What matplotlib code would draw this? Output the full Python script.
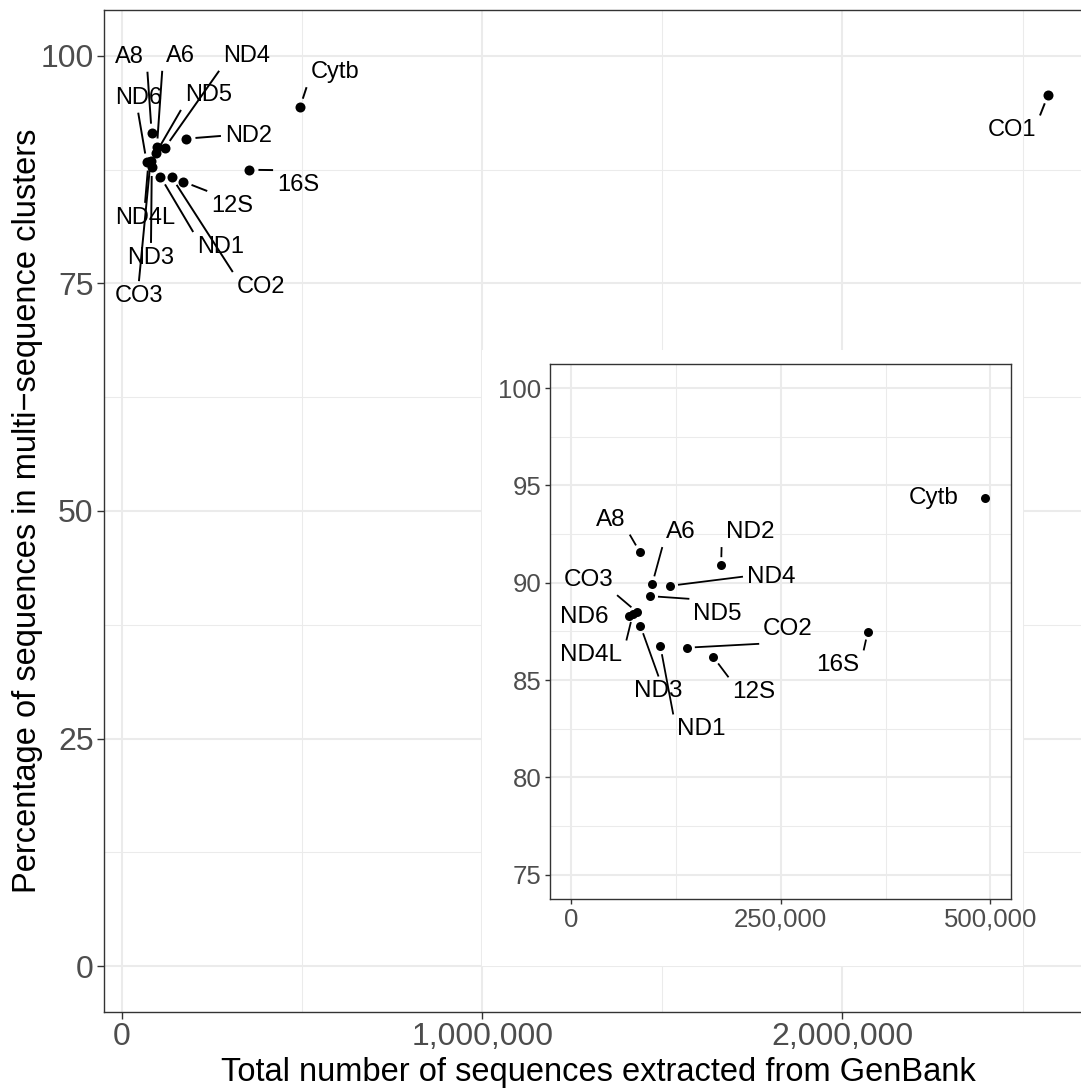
import matplotlib
matplotlib.use('Agg')
import numpy as np
import matplotlib.pyplot as plt
import matplotlib.ticker as ticker
from matplotlib.patches import Rectangle

plt.rcParams['font.family'] = ['Liberation Sans', 'DejaVu Sans']

# mitochondrial markers: total sequences pulled from GenBank and % in multi-sequence clusters
genes = ['CO1', 'Cytb', '16S', '12S', 'CO2', 'ND2', 'ND4', 'ND1', 'A6', 'ND5',
         'ND3', 'A8', 'CO3', 'ND4L', 'ND6']
n_seqs = [2571000, 494100, 353800, 169700, 138100, 179000, 118100, 106600, 96800, 94200,
          82700, 82300, 79300, 73700, 68600]
pct_clustered = [95.7, 94.35, 87.48, 86.18, 86.66, 90.90, 89.84, 86.73, 89.93, 89.31,
                 87.79, 91.56, 88.47, 88.38, 88.29]

# repelled label positions (data units) for the full-range panel
main_label_pos = {
    'CO1': (2.470e6, 91.8), 'Cytb': (0.591e6, 98.2), '16S': (0.489e6, 85.8),
    '12S': (0.306e6, 83.5), 'CO2': (0.386e6, 74.6), 'ND2': (0.351e6, 91.2),
    'ND4': (0.346e6, 100.0), 'ND1': (0.274e6, 79.0), 'A6': (0.163e6, 100.0),
    'ND5': (0.240e6, 95.7), 'ND3': (0.0805e6, 77.8), 'A8': (0.0194e6, 99.9),
    'CO3': (0.047e6, 73.6), 'ND4L': (0.064e6, 82.2), 'ND6': (0.045e6, 95.4),
}
# and for the zoomed inset
inset_label_pos = {
    'Cytb': (432700, 94.33), '16S': (318400, 85.75), '12S': (218300, 84.37),
    'CO2': (258800, 87.63), 'ND2': (213200, 92.60), 'ND4': (238700, 90.31),
    'ND1': (155600, 82.46), 'A6': (131300, 92.60), 'ND5': (174800, 88.40),
    'ND3': (104400, 84.41), 'A8': (47700, 93.24), 'CO3': (20500, 90.13),
    'ND4L': (24300, 86.26), 'ND6': (15800, 88.25),
}

GRID = '#EBEBEB'
DARK = '#333333'
TICKTXT = '#4D4D4D'

W, H = 1081, 1092


def style_axes(ax, tick_size, tick_len):
    ax.set_facecolor('white')
    ax.set_axisbelow(True)
    ax.grid(True, which='major', color=GRID, lw=1.5)
    ax.grid(True, which='minor', color=GRID, lw=0.75)
    for sp in ax.spines.values():
        sp.set_color(DARK)
        sp.set_linewidth(1.0)
    ax.tick_params(which='major', length=tick_len, width=1.0, color=DARK,
                   labelsize=tick_size, labelcolor=TICKTXT, pad=2.5)
    ax.tick_params(which='minor', length=0)
    ax.xaxis.set_major_formatter(ticker.FuncFormatter(lambda x, _: f'{int(x):,}'))


def add_labels(ax, xs, ys, names, label_pos, fontsize):
    texts = []
    for x, y, name in zip(xs, ys, names):
        lx, ly = label_pos[name]
        t = ax.text(lx, ly, name, ha='center', va='center', fontsize=fontsize,
                    color='black', zorder=4)
        texts.append((t, x, y, name))
    return texts


def pick_edge(p, lo, hi):
    # left/right edge when outside the box span, middle when inside
    if p < lo:
        return lo
    if p > hi:
        return hi
    return (lo + hi) / 2


def add_segments(ax, texts, renderer, lw, point_gap, box_pad, skip=()):
    to_data = ax.transData.inverted()
    for t, x, y, name in texts:
        if name in skip:
            continue
        bb = t.get_window_extent(renderer)
        px, py = ax.transData.transform((x, y))
        ex = pick_edge(px, bb.x0 - box_pad, bb.x1 + box_pad)
        ey = pick_edge(py, bb.y0 - box_pad, bb.y1 + box_pad)
        d = np.hypot(ex - px, ey - py)
        if d <= point_gap + 2:
            continue
        sx = px + (ex - px) * point_gap / d
        sy = py + (ey - py) * point_gap / d
        (ax0, ay0), (ax1, ay1) = to_data.transform([(sx, sy), (ex, ey)])
        ax.plot([ax0, ax1], [ay0, ay1], color='black', lw=lw, zorder=3,
                solid_capstyle='butt', clip_on=False)


fig = plt.figure(figsize=(W / 100, H / 100), dpi=100)

# main panel runs a little past the right edge of the figure
ax = fig.add_axes([103.7 / W, 1 - 1011.7 / H, 989.8 / W, (1011.7 - 10.3) / H])
style_axes(ax, 23, 4.8)
ax.set_xlim(-0.0508e6, 2.697e6)
ax.set_ylim(-5, 105)
ax.xaxis.set_major_locator(ticker.MultipleLocator(1e6))
ax.xaxis.set_minor_locator(ticker.MultipleLocator(0.5e6))
ax.yaxis.set_major_locator(ticker.MultipleLocator(25))
ax.yaxis.set_minor_locator(ticker.MultipleLocator(12.5))
ax.scatter(n_seqs, pct_clustered, s=52, color='black', zorder=3, linewidths=0)
main_texts = add_labels(ax, n_seqs, pct_clustered, genes, main_label_pos, 17)
ax.set_xlabel('Total number of sequences extracted from GenBank', fontsize=23.5, labelpad=4)
ax.set_ylabel('Percentage of sequences in multi\u2212sequence clusters', fontsize=23.5, labelpad=-2)

# white backing for the inset plot
ax.add_patch(Rectangle((1e6, 0), 1.5e6, 67.7, facecolor='white', edgecolor='none', zorder=1))

# inset: everything except CO1
ins_x = n_seqs[1:]
ins_y = pct_clustered[1:]
ins_names = genes[1:]
axi = fig.add_axes([550 / W, 1 - 899 / H, (1011.4 - 550) / W, (899 - 363.7) / H])
style_axes(axi, 18.5, 3.8)
axi.set_xlim(-25000, 525000)
axi.set_ylim(73.75, 101.25)
axi.xaxis.set_major_locator(ticker.MultipleLocator(250000))
axi.xaxis.set_minor_locator(ticker.MultipleLocator(125000))
axi.yaxis.set_major_locator(ticker.MultipleLocator(5))
axi.yaxis.set_minor_locator(ticker.MultipleLocator(2.5))
axi.scatter(ins_x, ins_y, s=42, color='black', zorder=3, linewidths=0)
inset_texts = add_labels(axi, ins_x, ins_y, ins_names, inset_label_pos, 17.5)

fig.canvas.draw()
renderer = fig.canvas.get_renderer()
add_segments(ax, main_texts, renderer, 1.4, 9, 4)
add_segments(axi, inset_texts, renderer, 1.3, 8, 4, skip=('Cytb', 'ND6'))

fig.savefig('out.png', dpi=100)
